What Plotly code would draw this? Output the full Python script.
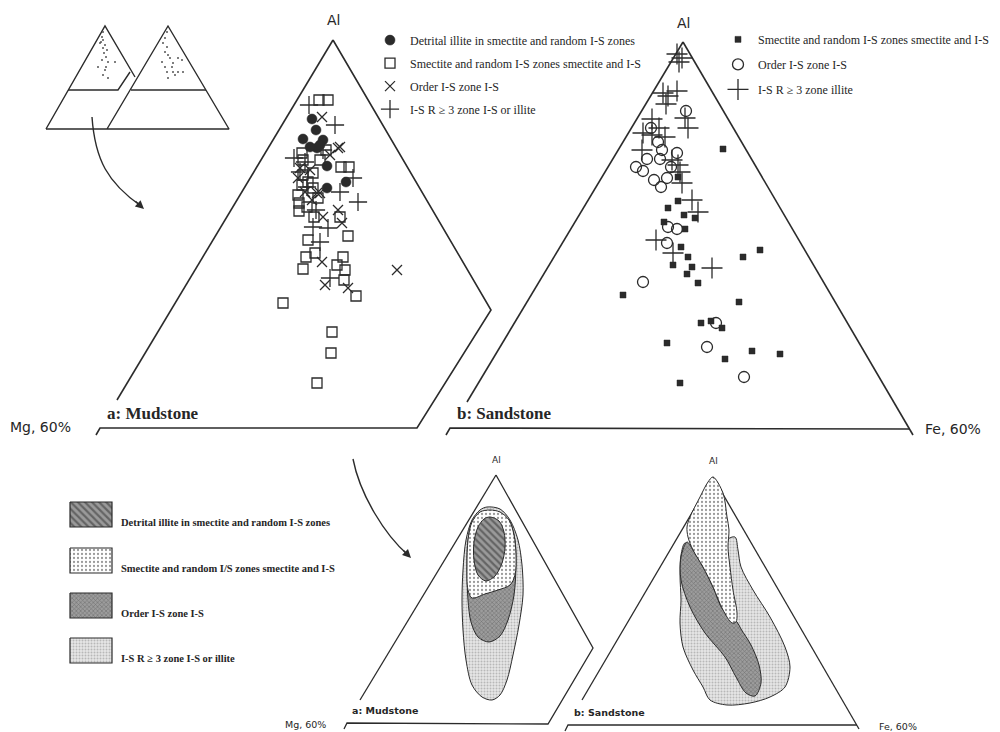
import plotly.graph_objects as go

INK = "#2b2b2b"
TEXT = "#262626"
SERIF = "Liberation Serif"
SANS = "DejaVu Sans"

# ---------------------------------------------------------------------------
# Panel a (mudstone) and panel b (sandstone): positions inside each diagram,
# x = distance along the base from the lower-left corner, y = height above base
# ---------------------------------------------------------------------------
mud_detrital_x = [212, 216, 203, 223, 217, 220, 227, 246, 227, 210]
mud_detrital_y = [309, 298, 289, 288, 280, 283, 262, 246, 240, 281]

mud_smectite_x = [219, 228, 241, 249, 199, 199, 207, 214, 240, 248, 208, 206, 215, 203, 243,
                  237, 245, 244, 256, 183, 232, 231, 217, 202, 203, 220, 226, 203, 213, 208,
                  213, 202, 218, 198]
mud_smectite_y = [328, 328, 261, 261, 225, 217, 221, 211, 211, 192, 188, 171, 175, 159, 171,
                  163, 158, 148, 132, 125, 96, 75, 45, 275, 268, 268, 278, 253, 255, 246,
                  240, 243, 230, 233]

mud_ordered_x = [222, 238, 198, 210, 217, 205, 238, 223, 242, 222, 225, 248, 297, 240, 220, 200, 230, 212]
mud_ordered_y = [311, 280, 250, 258, 235, 236, 218, 211, 205, 166, 143, 140, 158, 281, 235, 260, 273, 228]

mud_r3_x = [209, 235, 194, 205, 240, 258, 213, 228, 220, 230, 253, 207, 200, 223, 216]
mud_r3_y = [323, 303, 270, 266, 236, 226, 201, 200, 186, 150, 250, 241, 256, 278, 218]

sand_smectite_x = [273, 218, 228, 234, 245, 214, 235, 231, 238, 223, 242, 237, 248, 293, 310,
                   173, 289, 251, 261, 272, 217, 302, 330, 275, 230, 228]
sand_smectite_y = [279, 220, 227, 213, 210, 206, 199, 181, 171, 163, 161, 154, 145, 171, 178,
                   133, 126, 105, 107, 100, 85, 77, 74, 69, 45, 251]

sand_ordered_x = [236, 201, 208, 212, 227, 197, 186, 193, 210, 221, 204, 211, 217, 218, 227,
                  217, 193, 266, 257, 294]
sand_ordered_y = [317, 300, 286, 278, 275, 269, 261, 257, 269, 261, 248, 241, 250, 201, 199,
                  185, 146, 105, 81, 51]

sand_r3_x = [227, 229, 232, 213, 218, 216, 227, 202, 235, 238, 193, 202, 215, 209, 192, 222,
             228, 230, 232, 242, 248, 206, 223, 262]
sand_r3_y = [374, 366, 370, 335, 332, 324, 337, 309, 310, 300, 295, 293, 291, 300, 278, 268,
             263, 256, 245, 228, 216, 188, 175, 160]

# small key diagrams (upper left): sample dots
key_left_x = [56, 57, 54, 59, 57, 61, 58, 60, 56, 62, 69, 52, 59, 57, 62, 60, 57, 55]
key_left_y = [92, 89, 86, 84, 81, 79, 76, 72, 69, 67, 67, 62, 59, 54, 51, 62, 97, 87]
key_right_x = [121, 119, 117, 121, 119, 122, 124, 127, 116, 132, 136, 121, 127, 132, 137, 122, 129, 119, 126]
key_right_y = [97, 91, 86, 82, 77, 74, 71, 66, 67, 71, 69, 57, 57, 57, 57, 51, 54, 62, 62]

# ---------------------------------------------------------------------------
# Fields of the lower diagrams (same local coordinates as above)
# ---------------------------------------------------------------------------
mudf_r3_x = [140, 133, 125, 119, 116, 115, 116, 119, 125, 135, 145, 153, 160, 166, 172, 176, 175, 171, 163, 153]
mudf_r3_y = [216, 213, 203, 183, 153, 123, 93, 63, 38, 26, 23, 28, 43, 68, 98, 128, 158, 183, 203, 214]
mudf_ord_x = [143, 155, 163, 168, 169, 167, 161, 153, 142, 131, 124, 121, 120, 121, 125, 133]
mudf_ord_y = [212, 209, 201, 183, 158, 128, 103, 87, 81, 86, 101, 123, 153, 183, 201, 210]
mudf_sme_x = [143, 153, 162, 167, 169, 168, 163, 151, 138, 125, 121, 120, 121, 125, 133]
mudf_sme_y = [213, 211, 203, 188, 168, 148, 138, 133, 129, 125, 133, 158, 183, 201, 211]
mudf_det_x = [143, 152, 157, 158, 155, 148, 139, 131, 127, 127, 131, 137]
mudf_det_y = [206, 202, 191, 175, 160, 147, 142, 148, 163, 181, 196, 204]

sandf_r3_x = [159, 167, 170, 173, 185, 202, 217, 222, 217, 202, 182, 159, 142, 135, 125, 115,
              112, 113, 112, 113, 117, 125, 145, 160]
sandf_r3_y = [185, 188, 175, 158, 135, 108, 78, 58, 38, 28, 22, 20, 25, 38, 55, 78,
              102, 125, 150, 170, 182, 175, 138, 165]
sandf_ord_x = [119, 113, 113, 122, 137, 157, 168, 178, 187, 193, 191, 183, 173, 169, 155, 145, 135, 125]
sandf_ord_y = [183, 168, 145, 118, 92, 68, 48, 32, 29, 42, 60, 80, 96, 103, 115, 138, 158, 175]
sandf_sme_x = [145, 155, 159, 161, 160, 162, 165, 169, 168, 164, 155, 145, 135, 125, 120, 119, 122, 132, 140]
sandf_sme_y = [248, 232, 208, 195, 178, 158, 135, 112, 103, 102, 115, 138, 158, 175, 188, 198, 208, 228, 243]

# ---------------------------------------------------------------------------
# Diagram frames (None breaks a line)
# ---------------------------------------------------------------------------
frame_a_x = [233, 17, None, -4, 0, 317, 391, 233]
frame_a_y = [388, 28, None, -7, 0, 0, 118, 388]
frame_b_x = [233, 17, None, -4, 0, 460, None, 233, 463]
frame_b_y = [386, 26, None, -7, 0, -1, None, 386, -7]
frame_c_x = [149, 13, None, -3, 0, 201, 246, 149]
frame_c_y = [248, 23, None, -6, 0, -1, 75, 248]
frame_d_x = [145, 14, None, -3, 0, 289, None, 145, 291]
frame_d_y = [248, 25, None, -6, 0, 0, None, 248, -4]
frame_key_x = [0, 59, 89, None, 22, 72, 84, None, 0, 183, 122, 61, None, 85, 160]
frame_key_y = [0, 103, 52, None, 39, 39, 57, None, 0, 0, 103, 0, None, 39, 39]

mud_labels = ["Detrital illite in smectite and random I-S zones",
              "Smectite and random I-S zones smectite and I-S",
              "Order I-S zone I-S",
              "I-S R \u2265 3 zone I-S or illite"]
sand_labels = ["Smectite and random I-S zones smectite and I-S",
               "Order I-S zone I-S",
               "I-S R \u2265 3 zone illite"]
field_labels = ["Detrital illite in smectite and random I-S zones",
                "Smectite and random I/S zones smectite and I-S",
                "Order I-S zone I-S",
                "I-S R \u2265 3 zone I-S or illite"]

# fill textures
PAT_HATCH = dict(shape="\\", fgcolor="#2e2e2e", bgcolor="#9a9a9a", size=5, solidity=0.45)
PAT_DOT = dict(shape=".", fgcolor="#333333", bgcolor="#ffffff", size=4, solidity=0.25)
PAT_ORDER = dict(shape="x", fgcolor="#444444", bgcolor="#9c9c9c", size=3, solidity=0.35)
PAT_LIGHT = dict(shape=".", fgcolor="#8a8a8a", bgcolor="#e6e6e6", size=3, solidity=0.35)

# axis sets: base pixel frame and one frame per diagram (origin at lower-left corner)
BASE = ("x", "y")
PA = ("x2", "y2")
PB = ("x3", "y3")
PC = ("x4", "y4")
PD = ("x5", "y5")
PK = ("x6", "y6")
ranges = {
    1: ([0, 1000], [732, 0]),
    2: ([-100, 900], [-304, 428]),
    3: ([-450, 550], [-304, 428]),
    4: ([-347, 653], [-9, 723]),
    5: ([-568, 432], [-7, 725]),
    6: ([-46, 954], [-603, 129]),
}

fig = go.Figure()


def lines(xs, ys, ax, width=1.6):
    fig.add_trace(go.Scatter(x=xs, y=ys, xaxis=ax[0], yaxis=ax[1], mode="lines",
                             line=dict(color=INK, width=width), showlegend=False,
                             hoverinfo="skip", connectgaps=False))


def field(xs, ys, ax, pat):
    fig.add_trace(go.Scatter(x=list(xs) + [xs[0]], y=list(ys) + [ys[0]],
                             xaxis=ax[0], yaxis=ax[1], mode="lines", fill="toself",
                             line=dict(color=INK, width=1, shape="spline", smoothing=0.9),
                             fillcolor=pat["bgcolor"], fillpattern=pat,
                             showlegend=False, hoverinfo="skip"))


def points(xs, ys, ax, name, legend, symbol, size, lw=1.3):
    fig.add_trace(go.Scatter(x=xs, y=ys, xaxis=ax[0], yaxis=ax[1], mode="markers",
                             name=name, legend=legend, legendgroup=legend + name,
                             marker=dict(symbol=symbol, size=size, color=INK,
                                         line=dict(color=INK, width=lw)),
                             hoverinfo="skip"))


# frames
lines(frame_a_x, frame_a_y, PA)
lines(frame_b_x, frame_b_y, PB)
lines(frame_c_x, frame_c_y, PC, 1.3)
lines(frame_d_x, frame_d_y, PD, 1.3)
lines(frame_key_x, frame_key_y, PK, 1.4)

# key dots
fig.add_trace(go.Scatter(x=key_left_x + key_right_x, y=key_left_y + key_right_y,
                         xaxis=PK[0], yaxis=PK[1], mode="markers",
                         marker=dict(size=2, color="#555555"), showlegend=False, hoverinfo="skip"))

# lower diagram fields
field(mudf_r3_x, mudf_r3_y, PC, PAT_LIGHT)
field(mudf_ord_x, mudf_ord_y, PC, PAT_ORDER)
field(mudf_sme_x, mudf_sme_y, PC, PAT_DOT)
field(mudf_det_x, mudf_det_y, PC, PAT_HATCH)
field(sandf_r3_x, sandf_r3_y, PD, PAT_LIGHT)
field(sandf_ord_x, sandf_ord_y, PD, PAT_ORDER)
field(sandf_sme_x, sandf_sme_y, PD, PAT_DOT)

# scatter points, mudstone
points(mud_detrital_x, mud_detrital_y, PA, mud_labels[0], "legend", "circle", 10, 0.5)
points(mud_smectite_x, mud_smectite_y, PA, mud_labels[1], "legend", "square-open", 10)
points(mud_ordered_x, mud_ordered_y, PA, mud_labels[2], "legend", "x-thin-open", 10)
points(mud_r3_x, mud_r3_y, PA, mud_labels[3], "legend", "cross-thin-open", 13)

# scatter points, sandstone
points(sand_smectite_x, sand_smectite_y, PB, sand_labels[0], "legend2", "square", 6, 0.5)
points(sand_ordered_x, sand_ordered_y, PB, sand_labels[1], "legend2", "circle-open", 11)
points(sand_r3_x, sand_r3_y, PB, sand_labels[2], "legend2", "cross-thin-open", 15)

# key of the field textures (lower left)
sw_top = [502, 548, 593, 638]
for top, pat, lab in zip(sw_top, [PAT_HATCH, PAT_DOT, PAT_ORDER, PAT_LIGHT], field_labels):
    fig.add_trace(go.Scatter(x=[70, 112, 112, 70, 70], y=[top, top, top + 25, top + 25, top],
                             xaxis="x", yaxis="y", mode="lines", fill="toself",
                             line=dict(color=INK, width=1.2), fillcolor=pat["bgcolor"],
                             fillpattern=pat, showlegend=False, hoverinfo="skip"))

annotations = []


def label(text, ax, x, y, size, family=SANS, xanchor="center", xshift=0, yshift=0):
    annotations.append(dict(text=text, xref=ax[0], yref=ax[1], x=x, y=y, showarrow=False,
                            xanchor=xanchor, yanchor="middle", xshift=xshift, yshift=yshift,
                            font=dict(family=family, size=size, color=TEXT)))


# upper diagrams
label("Al", PA, 233, 388, 14, yshift=20)
label("Mg, 60%", PA, 0, 0, 14, xanchor="right", xshift=-27, yshift=1)
label("<b>a: Mudstone</b>", PA, 5, 15, 17, family=SERIF, xanchor="left")
label("Al", PB, 233, 386, 14, yshift=19)
label("<b>b: Sandstone</b>", PB, 5, 15, 17, family=SERIF, xanchor="left")
label("Fe, 60%", PB, 460, 0, 14, xanchor="left", xshift=13, yshift=-1)

# lower diagrams
label("Al", PC, 149, 248, 9, yshift=15)
label("<b>a: Mudstone</b>", PC, 3, 13, 9.5, xanchor="left")
label("Mg, 60%", PC, 0, 0, 9.5, xanchor="right", xshift=-19, yshift=-1)
label("Al", PD, 145, 248, 9, yshift=16)
label("<b>b: Sandstone</b>", PD, 4, 13, 9.5, xanchor="left")
label("Fe, 60%", PD, 289, 0, 9.5, xanchor="left", xshift=20, yshift=-1)

for top, lab in zip(sw_top, field_labels):
    label("<b>" + lab + "</b>", BASE, 119, top + 20, 10.5, family=SERIF, xanchor="left")

# arrows linking the panels
shapes = [
    dict(type="path", xref="x", yref="y", path="M 92,117 C 95,160 108,183 141,206",
         line=dict(color=INK, width=1.4)),
    dict(type="path", xref="x", yref="y", path="M 353,459 C 360,495 385,535 408,555",
         line=dict(color=INK, width=1.4)),
]
for tip, tail in [((144, 209), (134, 200)), ((411, 558), (402, 549))]:
    annotations.append(dict(text="", xref="x", yref="y", axref="x", ayref="y",
                            x=tip[0], y=tip[1], ax=tail[0], ay=tail[1], showarrow=True,
                            arrowhead=2, arrowsize=1.3, arrowwidth=1.3, arrowcolor=INK))

axis_common = dict(visible=False, fixedrange=True, showgrid=False, zeroline=False, domain=[0, 1])
layout_axes = {}
for i, (xr, yr) in ranges.items():
    sx = "" if i == 1 else str(i)
    xa = dict(axis_common, range=xr)
    ya = dict(axis_common, range=yr)
    if i > 1:
        xa.update(overlaying="x", anchor="y" + sx)
        ya.update(overlaying="y", anchor="x" + sx)
    layout_axes["xaxis" + sx] = xa
    layout_axes["yaxis" + sx] = ya

legend_style = dict(font=dict(family=SERIF, size=12, color=TEXT), bgcolor="rgba(0,0,0,0)",
                    borderwidth=0, xanchor="left", yanchor="top", itemclick=False,
                    itemdoubleclick=False)

fig.update_layout(
    width=1000, height=732,
    margin=dict(l=0, r=0, t=0, b=0),
    paper_bgcolor="white", plot_bgcolor="white",
    showlegend=True,
    legend=dict(legend_style, x=0.37, y=0.965, tracegroupgap=4),
    legend2=dict(legend_style, x=0.718, y=0.966, tracegroupgap=6),
    annotations=annotations,
    shapes=shapes,
    **layout_axes,
)

fig.write_html("out.html")
